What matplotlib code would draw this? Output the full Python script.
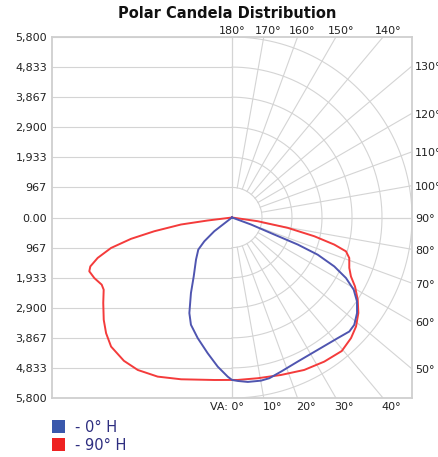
import numpy as np
import matplotlib.pyplot as plt
from matplotlib.patches import Rectangle

# vertical angle (deg from nadir) and candela
# left half of each curve is mirrored to the left of the vertical
blue_right_va = [0, 2.0, 5.5, 10.1, 13.1, 17.7, 24.6, 33.0, 41.3, 45.9, 48.8, 52.7,
                 56.2, 59.4, 62.1, 64.5, 66.6, 67.7, 68.1, 69.8, 72]
blue_right_cd = [5220, 5255, 5308, 5325, 5303, 5198, 5091, 5071, 5160, 5264, 5236, 5065,
                 4847, 4556, 4156, 3651, 3008, 2289, 1469, 652, 0]
blue_left_va = [0, 1.55, 5.5, 10.2, 15.9, 21.0, 24.1, 28.6, 33.1, 40.6, 46.5, 49.4, 52.3, 55]
blue_left_cd = [5220, 5116, 4813, 4430, 4031, 3692, 3365, 2763, 2258, 1782, 1497, 1174, 721, 0]

red_right_va = [0, 2.0, 9.1, 17.3, 25.4, 32.7, 39.5, 44.7, 48.8, 53.0, 56.9, 60.8, 63.7,
                66.8, 71.0, 73.5, 75.2, 77.2, 79.5, 81.8, 86]
red_right_cd = [5220, 5223, 5231, 5300, 5423, 5503, 5560, 5452, 5313, 5098, 4836, 4540, 4275,
                4112, 3996, 3831, 3409, 2720, 1825, 837, 0]
red_left_va = [0, 6.2, 17.5, 25.1, 31.8, 37.1, 43.2, 47.5, 51.5, 56.5, 60.7, 62.8, 66.3,
               69.4, 71.0, 73.3, 75.9, 78.1, 80.0, 82.2, 83.0, 88]
red_left_cd = [5220, 5252, 5451, 5646, 5764, 5774, 5691, 5503, 5281, 4975, 4741, 4721, 4844,
               4913, 4828, 4518, 4019, 3326, 2542, 1659, 789, 0]

series_names = ["- 0° H", "- 90° H"]
line_colors = ["#4f55b0", "#f43b3b"]
box_colors = ["#3a58ac", "#ee2222"]

max_cd = 5800
ring_cd = [967, 1933, 2900, 3867, 4833, 5800]
tick_vals = [5800, 4833, 3867, 2900, 1933, 967, 0, -967, -1933, -2900, -3867, -4833, -5800]
tick_text = ["5,800", "4,833", "3,867", "2,900", "1,933", "967", "0.00",
             "967", "1,933", "2,900", "3,867", "4,833", "5,800"]
top_angles = [180, 170, 160, 150, 140]
right_angles = [130, 120, 110, 100, 90, 80, 70, 60, 50]
bottom_angles = [0, 10, 20, 30, 40]


def to_xy(left_va, left_cd, right_va, right_cd):
    """join both halves into one path, left half mirrored"""
    lv = np.radians(left_va[::-1]); lc = np.array(left_cd[::-1], float)
    rv = np.radians(right_va); rc = np.array(right_cd, float)
    x = np.concatenate([-lc*np.sin(lv), rc*np.sin(rv)])
    y = np.concatenate([-lc*np.cos(lv), -rc*np.cos(rv)])
    return x, y


fig = plt.figure(figsize=(4.39, 4.57), dpi=100)
ax = fig.add_axes([52/439, 59/457, 360/439, 361/457])
ax.set_xlim(-max_cd, max_cd)
ax.set_ylim(-max_cd, max_cd)

grid = "#d4d4d4"
glw = 0.8
# left half: straight lines
ax.hlines([t for t in tick_vals if t != 0], -max_cd, 0, color=grid, lw=glw, zorder=1)
ax.axhline(0, color=grid, lw=glw, zorder=1)
ax.axvline(0, color=grid, lw=glw, zorder=1)
# right half: rings and spokes
th = np.linspace(0, np.pi, 300)
for r in ring_cd:
    ax.plot(r*np.sin(th), -r*np.cos(th), color=grid, lw=glw, zorder=1)
for a in range(0, 181, 10):
    t = np.radians(a)
    ax.plot([967*np.sin(t), 9000*np.sin(t)], [-967*np.cos(t), -9000*np.cos(t)],
            color=grid, lw=glw, zorder=1)

bx, by = to_xy(blue_left_va, blue_left_cd, blue_right_va, blue_right_cd)
rx, ry = to_xy(red_left_va, red_left_cd, red_right_va, red_right_cd)
ax.plot(rx, ry, color=line_colors[1], lw=1.4, zorder=3, solid_joinstyle="round")
ax.plot(bx, by, color=line_colors[0], lw=1.4, zorder=4, solid_joinstyle="round")

ax.set_xticks([])
ax.set_yticks(tick_vals)
ax.set_yticklabels(tick_text, fontsize=8, color="#222222")
ax.tick_params(axis="y", length=0, pad=3.6)
for s in ax.spines.values():
    s.set_color("#cfcfcf")
    s.set_linewidth(1.3)

# angle labels where the spokes leave the frame
for a in top_angles:
    hx = max_cd*np.tan(np.radians(180 - a))
    ax.annotate(f"{a}°", xy=(hx, max_cd), xytext=(0 if a == 180 else 3.5, 1),
                textcoords="offset points", ha="center", va="bottom",
                fontsize=8, color="#222222", annotation_clip=False)
for a in right_angles:
    hy = -max_cd/np.tan(np.radians(a)) if a != 90 else 0
    ax.annotate(f"{a}°", xy=(max_cd, hy), xytext=(2, -1),
                textcoords="offset points", ha="left", va="center",
                fontsize=8, color="#222222", annotation_clip=False)
for a in bottom_angles:
    hx = max_cd*np.tan(np.radians(a))
    if a == 0:
        ax.annotate("VA: 0°", xy=(0, -max_cd), xytext=(8.6, -3),
                    textcoords="offset points", ha="right", va="top",
                    fontsize=8, color="#222222", annotation_clip=False)
    else:
        ax.annotate(f"{a}°", xy=(hx, -max_cd), xytext=(-1, -3),
                    textcoords="offset points", ha="left", va="top",
                    fontsize=8, color="#222222", annotation_clip=False)

fig.text(227/439, 1 - 14/457, "Polar Candela Distribution", ha="center", va="center",
         fontsize=10.5, fontweight="bold", color="#111111")

# legend
for i, (name, c) in enumerate(zip(series_names, box_colors)):
    ytop = 420 + 18*i
    fig.add_artist(Rectangle((52/439, 1 - (ytop + 13)/457), 13/439, 13/457,
                             transform=fig.transFigure, facecolor=c, edgecolor="none"))
    fig.text(75/439, 1 - (ytop + 7)/457, name, ha="left", va="center",
             fontsize=10.5, color="#2e2e80")

fig.savefig("out.png", dpi=100)
